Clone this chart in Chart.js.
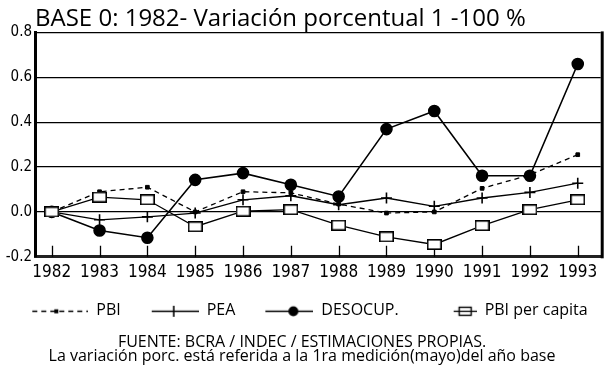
<!DOCTYPE html>
<html>
<head>
<meta charset="utf-8">
<script src="https://cdn.jsdelivr.net/npm/chart.js@4.4.1/dist/chart.umd.min.js"></script>
<style>
  html, body { margin: 0; padding: 0; background: #fff; }
  #wrap { width: 608px; height: 371px; }
</style>
</head>
<body>
<div id="wrap"><canvas id="variacion"></canvas></div>
<script>
const years = [1982, 1983, 1984, 1985, 1986, 1987, 1988, 1989, 1990, 1991, 1992, 1993];
const pbi = [0, 0.09, 0.11, 0.0, 0.09, 0.085, 0.035, -0.005, 0.0, 0.105, 0.165, 0.255];
const pea = [0, -0.035, -0.022, -0.005, 0.054, 0.072, 0.032, 0.062, 0.025, 0.062, 0.087, 0.128];
const desocup = [0, -0.083, -0.115, 0.143, 0.173, 0.121, 0.069, 0.369, 0.45, 0.161, 0.161, 0.659];
const pbiPerCapita = [0, 0.066, 0.054, -0.066, 0.003, 0.01, -0.059, -0.111, -0.145, -0.061, 0.01, 0.054];
const yTicks = [-0.2, 0, 0.2, 0.4, 0.6, 0.8];

const narrow = "'DejaVu Sans Condensed', 'DejaVu Sans', sans-serif";
const sans = "'Open Sans', sans-serif";

// open box used as the per capita marker
function boxMarker() {
    const c = document.createElement('canvas');
    c.width = 15; c.height = 11;
    const g = c.getContext('2d');
    g.fillStyle = '#fff';
    g.fillRect(0, 0, 15, 11);
    g.strokeStyle = '#000';
    g.lineWidth = 1.6;
    g.strokeRect(0.8, 0.8, 13.4, 9.4);
    return c;
}

// legend samples: line + marker, right aligned in a fixed width box
const ICON_W = 72;
function legendIcon(kind) {
    const c = document.createElement('canvas');
    c.width = ICON_W; c.height = 16;
    const g = c.getContext('2d');
    g.strokeStyle = '#000';
    g.fillStyle = '#000';
    g.lineWidth = 1.3;
    const len = { pbi: 56, pea: 47, desocup: 48, capita: 23 }[kind];
    const x0 = ICON_W - len;
    g.beginPath();
    if (kind === 'pbi') g.setLineDash([5, 4]);
    g.moveTo(x0, 8.5); g.lineTo(ICON_W, 8.5);
    g.stroke();
    g.setLineDash([]);
    if (kind === 'pbi') {
        g.fillRect(x0 + 22, 6.5, 4, 4);
    } else if (kind === 'pea') {
        g.lineWidth = 1.6;
        g.beginPath(); g.moveTo(x0 + 22, 3); g.lineTo(x0 + 22, 14); g.stroke();
    } else if (kind === 'desocup') {
        g.beginPath(); g.arc(x0 + 28, 8.5, 5, 0, Math.PI * 2); g.fill();
    } else {
        g.lineWidth = 1.4;
        g.strokeRect(x0 + 5.5, 4.5, 12, 8);
    }
    return c;
}
const legendIcons = [legendIcon('pbi'), legendIcon('pea'), legendIcon('desocup'), legendIcon('capita')];

const toPoints = values => values.map((v, i) => ({ x: years[i], y: v }));

// inward tick marks on the year axis and the heavy right frame
const framePlugin = {
    id: 'frame',
    beforeDatasetsDraw(chart) {
        const { ctx, chartArea, scales } = chart;
        ctx.save();
        ctx.strokeStyle = '#000';
        ctx.lineWidth = 1.3;
        ctx.beginPath();
        years.forEach(y => {
            const x = Math.round(scales.x.getPixelForValue(y)) + 0.5;
            ctx.moveTo(x, chartArea.bottom);
            ctx.lineTo(x, chartArea.bottom - 11);
        });
        ctx.stroke();
        ctx.lineWidth = 3;
        ctx.beginPath();
        ctx.moveTo(chartArea.right + 1.5, chartArea.top - 1);
        ctx.lineTo(chartArea.right + 1.5, chartArea.bottom + 1.5);
        ctx.stroke();
        ctx.restore();
    }
};

Chart.defaults.color = '#000';

new Chart(
    document.getElementById('variacion'),
    {
        type: 'line',
        data: {
            datasets: [
                {
                    label: 'PBI',
                    data: toPoints(pbi),
                    borderColor: '#000',
                    borderWidth: 1.3,
                    borderDash: [5, 4],
                    pointStyle: 'rect',
                    pointRadius: 2.6,
                    pointBackgroundColor: '#000',
                    pointBorderColor: '#000',
                    pointBorderWidth: 1,
                    order: 4
                },
                {
                    label: 'PEA',
                    data: toPoints(pea),
                    borderColor: '#000',
                    borderWidth: 1.3,
                    pointStyle: 'cross',
                    pointRadius: 5.5,
                    pointBorderColor: '#000',
                    pointBorderWidth: 1.6,
                    order: 3
                },
                {
                    label: 'DESOCUP.',
                    data: toPoints(desocup),
                    borderColor: '#000',
                    borderWidth: 1.6,
                    pointStyle: 'circle',
                    pointRadius: 5.5,
                    pointBackgroundColor: '#000',
                    pointBorderColor: '#000',
                    order: 2
                },
                {
                    label: 'PBI per capita',
                    data: toPoints(pbiPerCapita),
                    borderColor: '#000',
                    borderWidth: 1.3,
                    pointStyle: boxMarker(),
                    pointRadius: 6,
                    order: 1
                }
            ]
        },
        options: {
            responsive: true,
            maintainAspectRatio: false,
            animation: false,
            events: [],
            layout: { padding: { left: 0, right: 4, top: 0, bottom: 0 } },
            scales: {
                x: {
                    type: 'linear',
                    min: 1981.65,
                    max: 1993.48,
                    afterBuildTicks: scale => { scale.ticks = years.map(v => ({ value: v })); },
                    afterFit: scale => { scale.height = 40; },
                    grid: { display: false, drawTicks: false },
                    border: { color: '#222', width: 3 },
                    ticks: {
                        callback: v => String(v),
                        font: { family: narrow, size: 17 },
                        padding: 6,
                        maxRotation: 0,
                        autoSkip: false
                    }
                },
                y: {
                    min: -0.2,
                    max: 0.8,
                    afterBuildTicks: scale => { scale.ticks = yTicks.map(v => ({ value: v })); },
                    afterFit: scale => { scale.width = 35; },
                    grid: { color: '#000', lineWidth: 1.2, drawTicks: false },
                    border: { color: '#000', width: 3 },
                    ticks: {
                        callback: v => v.toFixed(1),
                        font: { family: narrow, size: 15 },
                        padding: 3
                    }
                }
            },
            plugins: {
                title: {
                    display: true,
                    text: 'BASE 0: 1982- Variación porcentual 1 -100 %',
                    align: 'start',
                    fullSize: false,
                    font: { family: sans, size: 24, weight: 'normal', lineHeight: 1.1 },
                    padding: { top: 6, bottom: 0 }
                },
                legend: {
                    position: 'bottom',
                    labels: {
                        usePointStyle: true,
                        pointStyleWidth: ICON_W,
                        padding: 6,
                        font: { family: sans, size: 16 },
                        generateLabels: chart => chart.data.datasets.map((ds, i) => ({
                            text: ds.label,
                            pointStyle: legendIcons[i],
                            datasetIndex: i,
                            hidden: false,
                            fillStyle: '#000',
                            strokeStyle: '#000',
                            lineWidth: 0,
                            fontColor: '#000'
                        }))
                    }
                },
                subtitle: {
                    display: true,
                    position: 'bottom',
                    text: [
                        'FUENTE: BCRA / INDEC / ESTIMACIONES PROPIAS.',
                        'La variación porc. está referida a la 1ra medición(mayo)del año base'
                    ],
                    font: { family: sans, size: 16, lineHeight: 0.85 },
                    padding: { top: 7, bottom: 8 }
                },
                tooltip: { enabled: false }
            }
        },
        plugins: [framePlugin]
    }
);
</script>
</body>
</html>
